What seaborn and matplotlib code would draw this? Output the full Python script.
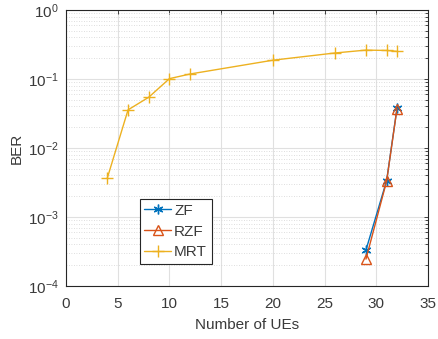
import numpy as np
import pandas as pd
import matplotlib
matplotlib.use("Agg")
import matplotlib.pyplot as plt
import seaborn as sns

# BER versus number of users for three precoders
zf_ues = [29, 31, 32]
zf_ber = [3.3e-4, 3.36e-3, 3.76e-2]

rzf_ues = [29, 31, 32]
rzf_ber = [2.44e-4, 3.3e-3, 3.7e-2]

mrt_ues = [4, 6, 8, 10, 12, 20, 26, 29, 31, 32]
mrt_ber = [3.67e-3, 0.0356, 0.0543, 0.101, 0.118, 0.187, 0.238, 0.262, 0.259, 0.251]

x_ticks = [0, 5, 10, 15, 20, 25, 30, 35]

sns.set_theme(style="white")
plt.rcParams["font.family"] = ["Liberation Sans", "DejaVu Sans"]

fig = plt.figure(figsize=(4.39, 3.39), dpi=100)
ax = fig.add_axes([0.1503, 0.157, 0.8247, 0.8135])

axis_col = "#262626"
text_col = "#3a3a3a"
fs = 11

# MATLAB-style asterisk: three crossing strokes
asterisk = (6, 2, 0)
series = [
    ("ZF", zf_ues, zf_ber, "#0072BD", asterisk, dict(markersize=7)),
    ("RZF", rzf_ues, rzf_ber, "#D95319", "^", dict(markersize=6.5, markerfacecolor="none")),
    ("MRT", mrt_ues, mrt_ber, "#EDB120", "+", dict(markersize=8)),
]
for name, xs, ys, col, mk, kw in series:
    df = pd.DataFrame({"UEs": xs, "BER": ys})
    sns.lineplot(data=df, x="UEs", y="BER", ax=ax, color=col, marker=mk,
                 linewidth=1.0, label=name, markeredgecolor=col,
                 markeredgewidth=1.0, **kw)

ax.set_yscale("log")
ax.set_xlim(0, 35)
ax.set_ylim(1e-4, 1)
ax.set_xticks(x_ticks)
ax.set_yticks([1e-4, 1e-3, 1e-2, 1e-1, 1e0])
ax.set_xlabel("Number of UEs", fontsize=fs, color=text_col, labelpad=5)
ax.set_ylabel("BER", fontsize=fs, color=text_col, labelpad=3)

ax.grid(True, which="major", color="#e0e0e0", linewidth=0.8)
ax.yaxis.grid(True, which="minor", color="#d4d4d4", linestyle=(0, (1, 2)), linewidth=0.6)
ax.set_axisbelow(True)

for s in ax.spines.values():
    s.set_color(axis_col)
    s.set_linewidth(0.8)
ax.tick_params(axis="both", which="both", direction="in", top=True, right=True,
               colors=axis_col, labelcolor=text_col, labelsize=fs, length=3, width=0.6)
ax.tick_params(axis="both", which="minor", length=2)
ax.tick_params(axis="x", which="minor", top=False, bottom=False)
ax.tick_params(axis="x", which="major", pad=8)
ax.tick_params(axis="y", which="major", pad=5)

leg = ax.legend(loc="lower left", bbox_to_anchor=(0.204, 0.079), fontsize=fs,
                frameon=True, fancybox=False, framealpha=1, edgecolor=axis_col,
                handlelength=1.75, handletextpad=0.2, borderpad=0.3,
                labelspacing=0.45, borderaxespad=0)
leg.get_frame().set_linewidth(0.8)
for t in leg.get_texts():
    t.set_color(text_col)

fig.savefig("out.png", dpi=100)
